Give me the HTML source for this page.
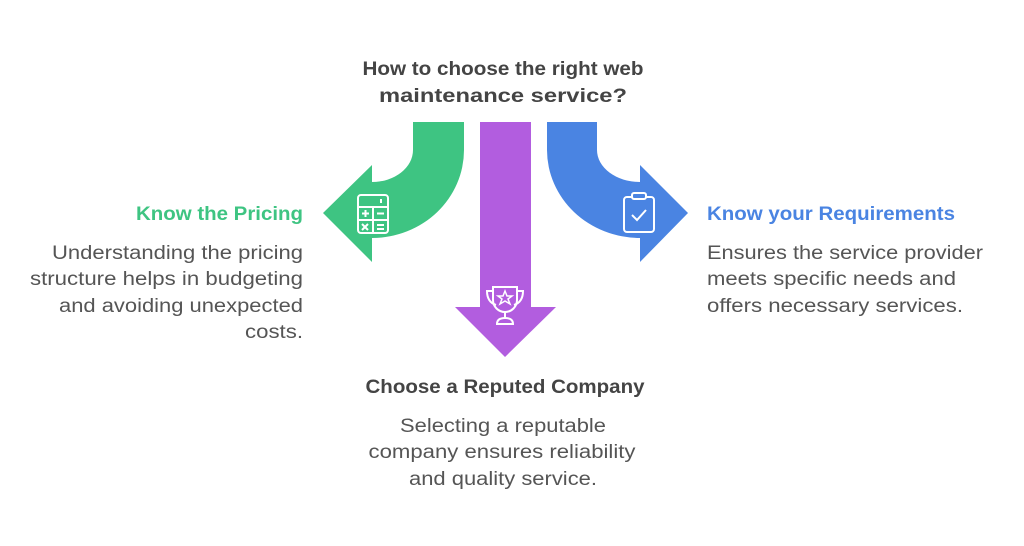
<!DOCTYPE html>
<html><head><meta charset="utf-8"><style>
html,body{margin:0;padding:0;background:#fff;}
svg{display:block;}
text{font-family:"Liberation Sans",sans-serif;}
.h{font-weight:bold;font-size:19px;}
.b{font-size:19px;fill:#555;}
</style></head><body>
<svg width="1024" height="546" viewBox="0 0 1024 546" xmlns="http://www.w3.org/2000/svg">
<rect width="1024" height="546" fill="#fff"/>
<!-- green -->
<path d="M413 122 L464 122 L464 150 A92 88 0 0 1 372 238 L372 262 L323 213 L372 165 L372 182 A41 32 0 0 0 413 150 Z" fill="#3ec482"/>
<!-- purple -->
<path d="M480 122 L531 122 L531 307 L556 307 L505 357 L455 307 L480 307 Z" fill="#b25ddf"/>
<!-- blue -->
<path d="M597 122 L547 122 L547 150 A93 88 0 0 0 640 238 L640 262 L688 213 L640 165 L640 182 A43 32 0 0 1 597 150 Z" fill="#4a84e2"/>
<!-- calculator -->
<g fill="none" stroke="#fff" stroke-width="2">
<rect x="358" y="195" width="30" height="38" rx="3"/>
<line x1="358" y1="207" x2="388" y2="207"/><line x1="373" y1="207" x2="373" y2="233"/><line x1="358" y1="220" x2="388" y2="220"/>
<line x1="381" y1="199" x2="381" y2="203"/>
<line x1="362" y1="213.5" x2="369" y2="213.5"/><line x1="365.5" y1="210" x2="365.5" y2="217"/>
<line x1="377" y1="213.5" x2="384" y2="213.5"/>
<line x1="362" y1="224" x2="368" y2="230"/><line x1="368" y1="224" x2="362" y2="230"/>
<line x1="377" y1="225" x2="384" y2="225"/><line x1="377" y1="229" x2="384" y2="229"/>
</g>
<!-- clipboard -->
<g fill="none" stroke="#fff" stroke-width="2">
<rect x="624" y="197" width="30" height="35" rx="3"/>
<rect x="632" y="193" width="14" height="6" rx="2" fill="#4a84e2"/>
<polyline points="632,215 637,220 646,210"/>
</g>
<!-- trophy -->
<g fill="none" stroke="#fff" stroke-width="2">
<path d="M493 287 L517 287 L517 300 A12 12 0 0 1 493 300 Z"/>
<path d="M493 291 L487 291 Q487 302 496 305"/>
<path d="M517 291 L523 291 Q523 302 514 305"/>
<line x1="505" y1="312" x2="505" y2="318"/>
<path d="M497 324 Q497 318 505 318 Q513 318 513 324 Z"/>
<path d="M505 291 L507 296 L512 296 L508 299 L510 304 L505 301 L500 304 L502 299 L498 296 L503 296 Z" stroke-width="1.5"/>
</g>
<!-- title -->
<text class="h" fill="#444" x="503" y="75" text-anchor="middle" textLength="281" lengthAdjust="spacingAndGlyphs">How to choose the right web</text>
<text class="h" fill="#444" x="503" y="102" text-anchor="middle" textLength="248" lengthAdjust="spacingAndGlyphs">maintenance service?</text>
<!-- left -->
<text class="h" fill="#3ec482" x="303" y="220" text-anchor="end" textLength="167" lengthAdjust="spacingAndGlyphs">Know the Pricing</text>
<text class="b" x="303" y="259" text-anchor="end" textLength="251" lengthAdjust="spacingAndGlyphs">Understanding the pricing</text>
<text class="b" x="303" y="285" text-anchor="end" textLength="273" lengthAdjust="spacingAndGlyphs">structure helps in budgeting</text>
<text class="b" x="303" y="312" text-anchor="end" textLength="244" lengthAdjust="spacingAndGlyphs">and avoiding unexpected</text>
<text class="b" x="303" y="338" text-anchor="end" textLength="58" lengthAdjust="spacingAndGlyphs">costs.</text>
<!-- right -->
<text class="h" fill="#4a84e2" x="707" y="220" textLength="248" lengthAdjust="spacingAndGlyphs">Know your Requirements</text>
<text class="b" x="707" y="259" textLength="276" lengthAdjust="spacingAndGlyphs">Ensures the service provider</text>
<text class="b" x="707" y="285" textLength="249" lengthAdjust="spacingAndGlyphs">meets specific needs and</text>
<text class="b" x="707" y="312" textLength="256" lengthAdjust="spacingAndGlyphs">offers necessary services.</text>
<!-- bottom -->
<text class="h" fill="#444" x="505" y="393" text-anchor="middle" textLength="279" lengthAdjust="spacingAndGlyphs">Choose a Reputed Company</text>
<text class="b" x="503" y="432" text-anchor="middle" textLength="206" lengthAdjust="spacingAndGlyphs">Selecting a reputable</text>
<text class="b" x="502" y="458" text-anchor="middle" textLength="267" lengthAdjust="spacingAndGlyphs">company ensures reliability</text>
<text class="b" x="503" y="485" text-anchor="middle" textLength="188" lengthAdjust="spacingAndGlyphs">and quality service.</text>
</svg>
</body></html>
